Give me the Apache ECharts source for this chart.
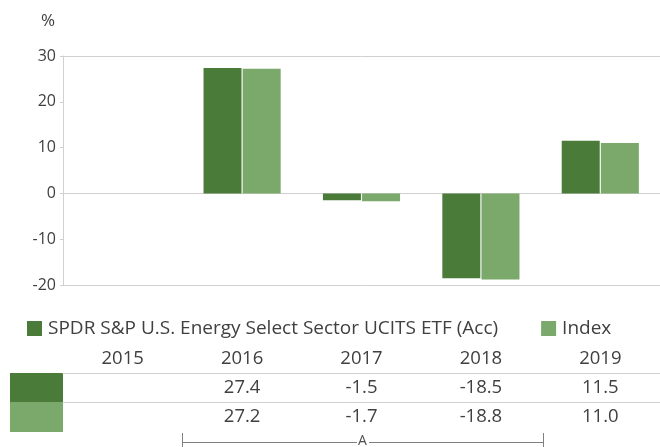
<!DOCTYPE html>
<html><head><meta charset="utf-8">
<script src="https://cdn.jsdelivr.net/npm/echarts@6/dist/echarts.min.js"></script>
<style>html,body{margin:0;padding:0;background:#fff}#c{width:660px;height:447px}</style>
</head><body><div id="c"></div>
<script>
const years = ['2015','2016','2017','2018','2019'];
const fundName = 'SPDR S&P U.S. Energy Select Sector UCITS ETF (Acc)';
const indexName = 'Index';
const fundValues = [null, 27.4, -1.5, -18.5, 11.5];
const indexValues = [null, 27.2, -1.7, -18.8, 11.0];
const yTicks = { min: -20, max: 30, interval: 10 };
const bracketLabel = 'A';

const FONT = '"Open Sans", "Noto Sans", sans-serif';
const TXT = '#404040';
const GRID = '#d0d0d0';
const DARK = '#4a7b39';
const LIGHT = '#7aa96b';
const fmt = v => (v === null || v === undefined) ? '' : v.toFixed(1);

const chart = echarts.init(document.getElementById('c'), null, {renderer:'canvas'});
const tableAxis = (offset, margin, formatter, showLine) => ({
  type: 'category', data: years, position: 'bottom', offset: offset,
  axisLine: { show: showLine, lineStyle: { color: GRID, width: 1 } },
  axisTick: { show: false }, splitLine: { show: false },
  axisLabel: { interval: 0, margin: margin, color: TXT, fontSize: 18.5, fontFamily: FONT, formatter: formatter }
});
chart.setOption({
  animation: false,
  textStyle: { fontFamily: FONT },
  grid: { left: 63, right: 0, top: 56, bottom: 162, containLabel: false },
  legend: {
    left: 22, top: 314, itemWidth: 15, itemHeight: 15, itemGap: 43, icon: 'rect',
    textStyle: { color: TXT, fontSize: 19, fontFamily: FONT, padding: [0,0,0,1] },
    data: [fundName, indexName]
  },
  xAxis: [
    { type: 'category', data: years, axisLine: { show: false }, axisTick: { show: false }, axisLabel: { show: false }, splitLine: { show: false } },
    tableAxis(61, 3, v => v, false),
    tableAxis(88, 5, (v, i) => fmt(fundValues[i]), true),
    tableAxis(117, 5, (v, i) => fmt(indexValues[i]), true)
  ],
  yAxis: {
    type: 'value', min: yTicks.min, max: yTicks.max, interval: yTicks.interval,
    name: '%', nameLocation: 'end', nameGap: 26,
    nameTextStyle: { color: TXT, fontSize: 17, fontFamily: FONT, align: 'right', padding: [0, 8, 0, 0] },
    axisLine: { show: true, lineStyle: { color: GRID } },
    axisTick: { show: true, length: 3, lineStyle: { color: GRID } },
    axisLabel: { color: TXT, fontSize: 16, fontFamily: FONT, margin: 7 },
    splitLine: { show: true, lineStyle: { width: 1, color: [GRID, 'rgba(0,0,0,0)', GRID, 'rgba(0,0,0,0)', 'rgba(0,0,0,0)', GRID] } }
  },
  series: [
    { name: fundName, type: 'bar', data: fundValues, barWidth: 38, barGap: '3%', itemStyle: { color: DARK } },
    { name: indexName, type: 'bar', data: indexValues, barWidth: 38, barGap: '3%', itemStyle: { color: LIGHT } }
  ]
});

const c0 = chart.convertToPixel({ xAxisIndex: 0 }, years[0]);
const c1 = chart.convertToPixel({ xAxisIndex: 0 }, years[1]);
const band = c1 - c0;
const gridLeft = c0 - band / 2;
const bStart = Math.round(c1 - band / 2) + 0.5;
const bEnd = Math.round(chart.convertToPixel({ xAxisIndex: 0 }, years[3]) + band / 2) + 2.5;
const mid = Math.round((bStart + bEnd) / 2);
const rowTop1 = 373, rowTop2 = 402, rowBot = 432;
chart.setOption({
  title: { text: bracketLabel, left: mid - 5, top: 434, padding: 0, textStyle: { fontSize: 14, fontWeight: 'normal', color: '#505050', fontFamily: FONT } },
  graphic: [
    { type: 'rect', shape: { x: 10, y: rowTop1, width: gridLeft - 10, height: rowTop2 - rowTop1 }, style: { fill: DARK } },
    { type: 'rect', shape: { x: 10, y: rowTop2, width: gridLeft - 10, height: rowBot - rowTop2 }, style: { fill: LIGHT } },
    { type: 'line', shape: { x1: bStart, y1: 442.5, x2: mid - 6, y2: 442.5 }, style: { stroke: '#808080', lineWidth: 1 } },
    { type: 'line', shape: { x1: mid + 6, y1: 442.5, x2: bEnd, y2: 442.5 }, style: { stroke: '#808080', lineWidth: 1 } },
    { type: 'line', shape: { x1: bStart, y1: 433, x2: bStart, y2: 447 }, style: { stroke: '#808080', lineWidth: 1 } },
    { type: 'line', shape: { x1: bEnd, y1: 433, x2: bEnd, y2: 447 }, style: { stroke: '#808080', lineWidth: 1 } }
  ]
});
</script></body></html>
